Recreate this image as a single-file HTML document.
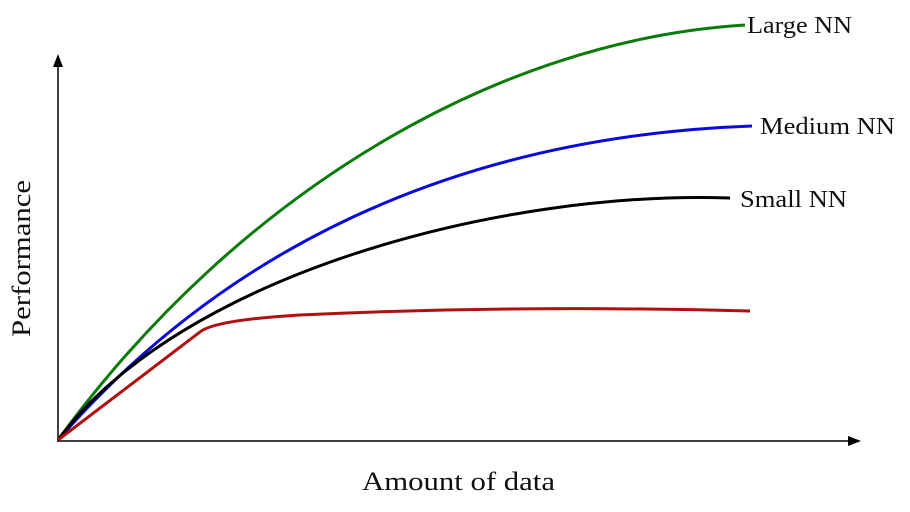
<!DOCTYPE html>
<html><head><style>body{margin:0;background:#fff}svg{display:block}</style></head>
<body>
<svg width="910" height="512" viewBox="0 0 910 512" xmlns="http://www.w3.org/2000/svg" font-family="Liberation Serif, serif">
<line x1="58" y1="442" x2="58" y2="66" stroke="#000" stroke-width="1.5"/>
<polygon points="58,54 53,67 63,67" fill="#000"/>
<line x1="58" y1="441" x2="850" y2="441" stroke="#000" stroke-width="1.5"/>
<polygon points="861,441 848,436 848,446" fill="#000"/>
<g fill="none" stroke-width="3">
<path d="M58,440 C240,190 500,40 745,25" stroke="#0a7a0a"/>
<path d="M58,440 C250,220 500,135 752,126" stroke="#0a0adc"/>
<path d="M58,440 C180,275 500,190 730,198" stroke="#000"/>
<path d="M58,440 L200,332 Q215,320 300,315 C450,308 600,307 750,311" stroke="#b01010"/>
</g>
<g font-size="24" fill="#111">
<text x="747" y="33" textLength="105" lengthAdjust="spacingAndGlyphs">Large NN</text>
<text x="760" y="134" textLength="135" lengthAdjust="spacingAndGlyphs">Medium NN</text>
<text x="740" y="207" textLength="107" lengthAdjust="spacingAndGlyphs">Small NN</text>
<text x="362" y="490" font-size="26" textLength="193" lengthAdjust="spacingAndGlyphs">Amount of data</text>
<text transform="translate(30,337) rotate(-90)" font-size="26" textLength="157" lengthAdjust="spacingAndGlyphs">Performance</text>
</g>
</svg>
</body></html>
